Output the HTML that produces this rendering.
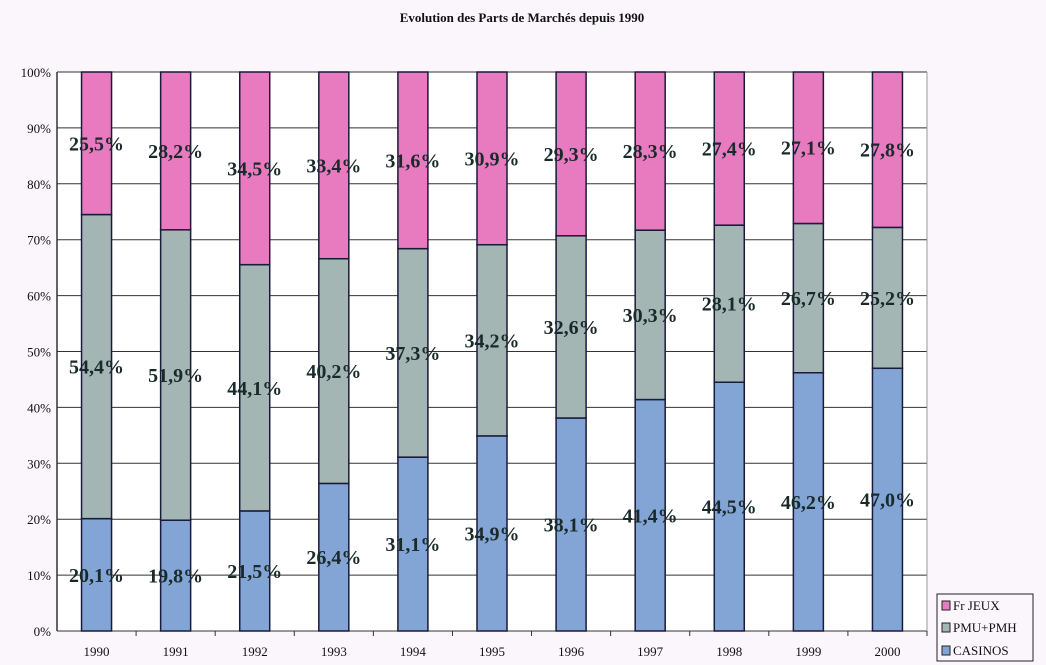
<!DOCTYPE html>
<html><head><meta charset="utf-8"><style>
body{margin:0;background:#fbf5fc;}
svg{display:block;font-family:"Liberation Serif",serif;}
</style></head><body>
<svg id="c" width="1046" height="665">
<rect x="0" y="0" width="1046" height="665" fill="#fbf5fc"/>
<text x="522" y="22" text-anchor="middle" font-size="13" font-weight="bold" fill="#111">Evolution des Parts de Marchés depuis 1990</text>
<rect x="57" y="72" width="870" height="559" fill="#ffffff"/>
<g id="grid"></g><g id="bars"></g><g id="labels"></g><g id="axes"></g>
<g>
<rect x="937" y="594" width="96" height="67" fill="#fbf5fc" stroke="#222" stroke-width="1"/>
<rect x="942" y="601" width="8" height="9" fill="#e87ac0" stroke="#222"/>
<text x="953" y="610" font-size="13" fill="#111">Fr JEUX</text>
<rect x="942" y="623" width="8" height="9" fill="#a4b6b4" stroke="#222"/>
<text x="953" y="632" font-size="13" fill="#111">PMU+PMH</text>
<rect x="942" y="646" width="8" height="9" fill="#82a5d6" stroke="#222"/>
<text x="953" y="655" font-size="13" fill="#111">CASINOS</text>
</g>
</svg>
<script>
const years=["1990","1991","1992","1993","1994","1995","1996","1997","1998","1999","2000"];
const casinos=[20.1,19.8,21.5,26.4,31.1,34.9,38.1,41.4,44.5,46.2,47.0];
const pmu=[54.4,51.9,44.1,40.2,37.3,34.2,32.6,30.3,28.1,26.7,25.2];
const jeux=[25.5,28.2,34.5,33.4,31.6,30.9,29.3,28.3,27.4,27.1,27.8];
const yTicks=[0,10,20,30,40,50,60,70,80,90,100];
const NS="http://www.w3.org/2000/svg";
const L=57,R=927,T=72,B=631,bw=30;
const step=(R-L)/years.length;
const xc=i=>L+step*(i+0.5);
const y=v=>B-(B-T)*v/100;
function mk(tag,attrs,parent){const e=document.createElementNS(NS,tag);for(const k in attrs)e.setAttribute(k,attrs[k]);document.getElementById(parent).appendChild(e);return e;}
yTicks.forEach(t=>{
 const l=mk('line',{x1:L,x2:R,y1:y(t),y2:y(t),stroke:'#333','stroke-width':1},'grid');
 
 
 const tx=mk('text',{x:L-6,y:y(t)+5,'text-anchor':'end','font-size':13,fill:'#111'},'axes');
 tx.textContent=t+'%';
 
 
});
const series=[[casinos,'#82a5d6','casinos'],[pmu,'#a4b6b4','pmu'],[jeux,'#e87ac0','jeux']];
years.forEach((yr,i)=>{
 const tot=casinos[i]+pmu[i]+jeux[i];
 let acc=0;
 series.forEach(([arr,col,nm])=>{
  const v=arr[i]/tot*100;
  const r=mk('rect',{x:xc(i)-bw/2,y:y(acc+v),width:bw,height:y(acc)-y(acc+v),fill:col,stroke:'#1a1a3a','stroke-width':1.5},'bars');
  
  
  const t=mk('text',{x:xc(i),y:y(acc+v/2)+7,'text-anchor':'middle','font-size':20,'font-weight':'bold',fill:'#1a2a2a'},'labels');
  t.textContent=arr[i].toFixed(1).replace('.',',')+'%';
  
  
  acc+=v;
 });
 const xt=mk('text',{x:xc(i),y:B+25,'text-anchor':'middle','font-size':13,fill:'#111'},'axes');
 xt.textContent=yr;
 
 
 const tk=mk('line',{x1:L+step*(i+1),x2:L+step*(i+1),y1:B,y2:B+5,stroke:'#333'},'axes');
 
 
});
const ax=mk('line',{x1:L,x2:L,y1:T,y2:B,stroke:'#333','stroke-width':1.5},'axes');


const rx=mk('line',{x1:R,x2:R,y1:T,y2:B,stroke:'#999','stroke-width':1},'axes');


</script>
</body></html>
